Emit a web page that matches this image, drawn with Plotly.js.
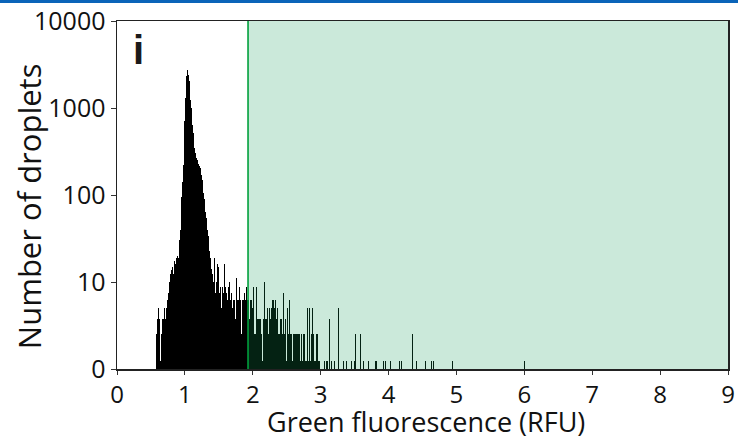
<!DOCTYPE html>
<html>
<head>
<meta charset="utf-8">
<script src="https://cdn.plot.ly/plotly-3.0.1.min.js"></script>
<style>html,body{margin:0;padding:0;background:#fff;}#chart{width:738px;height:439px;}</style>
</head>
<body>
<div id="chart"></div>
<script>
var binStart = 0.57;
var binWidth = 0.01;
var denseCounts = [
  2.5, 2.5, 3.75,
  3.75, 5, 3.75, 2.5, 1.25, 2.5, 2.5, 3.75, 3.75, 5,
  3.75, 3.75, 5, 6.25, 6.25, 7.5, 8.75, 10, 12.5, 15,
  13.75, 15, 16.25, 12.5, 17.5, 15, 16.25, 18.75, 17.5, 20,
  18.75, 22.5, 30, 40, 60, 95, 140, 220, 400, 700,
  1300, 1800, 2350, 2700, 2750, 2400, 2050, 1600, 1250, 1000,
  800, 640, 520, 430, 350, 300, 285, 265, 250, 235,
  225, 215, 205, 190, 170, 150, 125, 105, 90, 76,
  64, 54, 46, 40, 34, 28, 23, 19, 16, 14,
  12.5, 11.25, 10, 18.75, 8.75, 7.5, 10, 21, 16.25, 15,
  7.5, 6.25, 8.75, 5, 10, 8.75, 7.5, 6.25, 16.25, 8.75,
  6.25, 7.5, 6.25, 3.75, 8.75, 10, 7.5, 6.25, 7.5, 6.25,
  5, 6.25, 8.75, 6.25, 3.75, 7.5, 11.25, 6.25, 6.25, 5,
  8.75, 6.25, 7.5, 2.5, 6.25, 11.25, 6.25, 7.5, 3.75, 6.25,
  8.75, 6.25, 6.25, 6.25, 6.25, 3.75, 6.25, 2.5, 6.25, 5,
  6.25, 8.75, 2.5, 3.75, 2.5, 8.75, 3.75, 1.25, 3.75, 3.75,
  2.5, 3.75, 2.5, 3.75, 1.25, 3.75, 2.5, 10, 3.75, 2.5,
  3.75, 5, 3.75, 2.5, 5, 6.25, 3.75, 5, 8.75, 6.25,
  6.25, 5, 6.25, 6.25, 3.75, 6.25, 5, 2.5, 3.75, 2.5,
  3.75, 1.25, 3.75, 2.5, 3.75, 7.5, 2.5, 5, 3.75, 1.25,
  3.75, 5, 2.5, 3.75, 6.25, 2.5, 3.75, 2.5, 1.25, 2.5,
  3.75, 2.5, 2.5, 1.25, 2.5, 2.5, 1.25, 2.5, 2.5, 6.25,
  1.25, 2.5, 2.5, 1.25, 2.5, 3.75, 2.5, 1.25, 2.5, 1.25,
  5, 2.5, 1.25, 5, 2.5, 1.25, 2.5, 5, 2.5, 2.5,
  1.25, 2.5, 1.25, 2.5, 1.25, 2.5, 1.25, 0, 1.25, 0
];
// Sparse tail beyond 3.0 RFU (bin centres)
var tailX = [3.035, 3.055, 3.085, 3.105, 3.135, 3.155, 3.195, 3.205, 3.265, 3.285,
  3.315, 3.335, 3.385, 3.415, 3.455, 3.475, 3.495, 3.515, 3.535, 3.585,
  3.635, 3.705, 3.785, 3.805, 3.825, 3.845, 3.875, 3.905, 3.925, 3.935,
  3.955, 4.025, 4.125, 4.165, 4.185, 4.195, 4.355, 4.415, 4.545, 4.565,
  4.635, 4.665, 4.945, 5.065, 5.305, 6.005, 6.115];
var tailCounts = [1.25, 1.25, 1.25, 1.25, 3.75, 1.25, 1.25, 1.25, 5, 1.25,
  1.25, 1.25, 1.25, 1.25, 1.25, 2.5, 1.25, 2.5, 1.25, 2.5,
  1.25, 1.25, 1.25, 1.25, 1.25, 1.25, 1.25, 1.25, 1.25, 1.25,
  1.25, 1.25, 1.25, 1.25, 2.5, 1.25, 2.5, 1.25, 1.25, 1.25,
  1.25, 1.25, 1.25, 1.25, 1.25, 1.25, 1.25];
var gateThreshold = 1.93;
var xMax = 9;
var xTicks = [0, 1, 2, 3, 4, 5, 6, 7, 8, 9];
var yTickVals = [1, 10, 100, 1000, 10000];
var yTickText = ['0', '10', '100', '1000', '10000'];
var panelLabel = 'i';
var xTitle = 'Green fluorescence (RFU)';
var yTitle = 'Number of droplets';

var font = '"Open Sans", "Noto Sans", sans-serif';

var traces = [
  {
    type: 'bar',
    x0: binStart + binWidth / 2,
    dx: binWidth,
    y: denseCounts,
    width: binWidth,
    marker: {color: '#000000', line: {width: 0}},
    hoverinfo: 'x+y'
  },
  {
    type: 'bar',
    x: tailX,
    y: tailCounts,
    width: binWidth,
    marker: {color: '#000000', line: {width: 0}},
    hoverinfo: 'x+y'
  }
];

var layout = {
  width: 738,
  height: 439,
  margin: {l: 117, r: 10, t: 21, b: 70, pad: 0},
  paper_bgcolor: '#ffffff',
  plot_bgcolor: '#ffffff',
  showlegend: false,
  barmode: 'overlay',
  bargap: 0,
  font: {family: font, color: '#111111'},
  xaxis: {
    range: [0, xMax],
    tickvals: xTicks,
    ticks: 'outside',
    ticklen: 4,
    tickwidth: 1,
    tickcolor: '#333333',
    showgrid: false,
    zeroline: false,
    showline: true,
    linecolor: '#222222',
    linewidth: 1.5,
    mirror: true,
    tickfont: {size: 24, family: font, color: '#111111'}
  },
  yaxis: {
    type: 'log',
    range: [0, 4],
    tickvals: yTickVals,
    ticktext: yTickText,
    ticks: 'outside',
    ticklen: 5,
    tickwidth: 1,
    tickcolor: '#333333',
    showgrid: false,
    zeroline: false,
    showline: true,
    linecolor: '#222222',
    linewidth: 1.5,
    mirror: true,
    tickfont: {size: 25, family: font, color: '#111111'}
  },
  shapes: [
    {
      type: 'rect', xref: 'x', yref: 'paper',
      x0: gateThreshold, x1: xMax, y0: 0, y1: 1,
      fillcolor: 'rgb(20,155,85)', opacity: 0.22,
      line: {width: 0}, layer: 'above'
    },
    {
      type: 'line', xref: 'x', yref: 'paper',
      x0: gateThreshold, x1: gateThreshold, y0: 0, y1: 1,
      line: {color: 'rgb(0,160,60)', width: 1.6}, layer: 'above'
    },
    {
      type: 'rect', xref: 'paper', yref: 'paper',
      x0: -0.2, x1: 1.05, y0: 1.052, y1: 1.08,
      fillcolor: 'rgb(10,100,185)', line: {width: 0}, layer: 'above'
    }
  ],
  annotations: [
    {
      text: '<b>' + panelLabel + '</b>',
      xref: 'paper', yref: 'paper',
      x: 0.036, y: 0.917,
      xanchor: 'center', yanchor: 'middle',
      showarrow: false,
      font: {size: 40, family: '"Liberation Sans", Arial, sans-serif', color: '#1a1a1a'}
    },
    {
      text: yTitle,
      xref: 'paper', yref: 'paper',
      x: -0.144, y: 0.468,
      xanchor: 'center', yanchor: 'middle',
      textangle: -90,
      showarrow: false,
      font: {size: 31, family: font, color: '#111111'}
    },
    {
      text: xTitle,
      xref: 'paper', yref: 'paper',
      x: 0.506, y: -0.151,
      xanchor: 'center', yanchor: 'middle',
      borderpad: 0,
      showarrow: false,
      font: {size: 27, family: font, color: '#111111'}
    }
  ]
};

Plotly.newPlot('chart', traces, layout, {displayModeBar: false, staticPlot: true});
</script>
</body>
</html>
